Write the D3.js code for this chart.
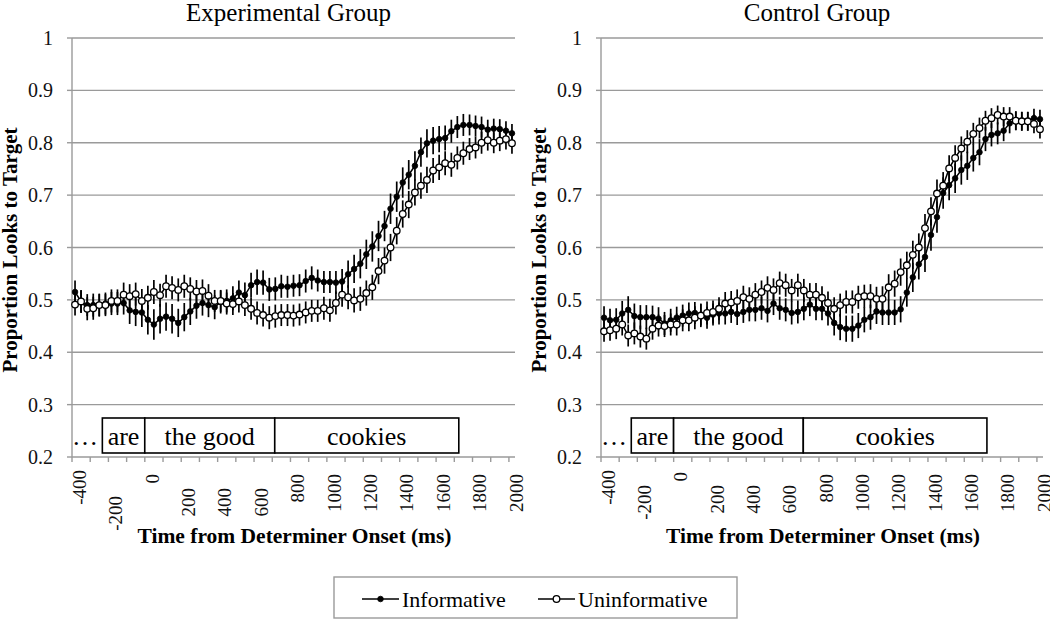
<!DOCTYPE html>
<html><head><meta charset="utf-8">
<script src="https://cdn.jsdelivr.net/npm/d3@7"></script>
<style>body{margin:0;background:#fff} svg text{font-family:'Liberation Serif','Times New Roman',Tinos,'DejaVu Serif',serif}</style>
</head><body><svg id="c" width="1050" height="620" font-family="Liberation Serif, Times New Roman, DejaVu Serif, serif"></svg>
<script>
// ---------- data ----------
const times = [-400,-367,-333,-300,-267,-233,-200,-167,-133,-100,-67,-33,0,
  33,67,100,133,167,200,233,267,300,333,367,400,433,467,500,533,567,600,633,667,700,
  733,767,800,833,867,900,933,967,1000,1033,1067,1100,1133,1167,1200,1233,1267,1300,
  1333,1367,1400,1433,1467,1500,1533,1567,1600,1633,1667,1700,1733,1767,1800,1833,1867,1900,1933,1967,2000];
const xTickLabels = ["-400","-200","0","200","400","600","800","1000","1200","1400","1600","1800","2000"];
const yTickValues = [0.2,0.3,0.4,0.5,0.6,0.7,0.8,0.9,1];
const yTickLabels = ["0.2","0.3","0.4","0.5","0.6","0.7","0.8","0.9","1"];
const panelTitles = ["Experimental Group","Control Group"];
const seriesNames = ["Informative","Uninformative"];
const words = ["are","the good","cookies"];
const wordStart = [-250,-17,697];
const wordEnd = [-17,697,1708];

const expInf = [0.515,0.497,0.490,0.490,0.490,0.493,0.493,0.493,0.494,0.480,0.477,0.476,0.462,0.453,0.464,0.468,0.464,0.456,0.467,0.478,0.489,0.494,0.490,0.486,0.496,0.498,0.503,0.514,0.509,0.528,0.534,0.533,0.520,0.521,0.526,0.525,0.527,0.528,0.536,0.542,0.537,0.534,0.534,0.533,0.535,0.549,0.559,0.569,0.587,0.602,0.622,0.641,0.674,0.697,0.724,0.739,0.756,0.782,0.799,0.804,0.807,0.809,0.822,0.830,0.834,0.834,0.832,0.830,0.825,0.827,0.826,0.823,0.818];
const expInfErr = [0.022,0.021,0.021,0.022,0.022,0.021,0.022,0.022,0.022,0.026,0.027,0.028,0.028,0.029,0.028,0.027,0.028,0.027,0.027,0.026,0.025,0.024,0.023,0.023,0.022,0.022,0.023,0.023,0.024,0.024,0.024,0.023,0.022,0.022,0.022,0.021,0.021,0.021,0.022,0.022,0.021,0.021,0.021,0.022,0.024,0.026,0.027,0.028,0.028,0.029,0.029,0.029,0.029,0.029,0.029,0.028,0.028,0.028,0.027,0.026,0.025,0.024,0.022,0.021,0.021,0.020,0.020,0.020,0.019,0.019,0.019,0.018,0.018];
const expUni = [0.491,0.497,0.483,0.484,0.490,0.490,0.498,0.498,0.510,0.507,0.511,0.498,0.504,0.515,0.509,0.526,0.523,0.519,0.526,0.521,0.516,0.517,0.508,0.498,0.498,0.493,0.492,0.497,0.490,0.483,0.475,0.471,0.466,0.469,0.471,0.471,0.470,0.472,0.476,0.479,0.479,0.484,0.480,0.494,0.510,0.505,0.499,0.502,0.513,0.524,0.555,0.575,0.600,0.632,0.664,0.682,0.705,0.718,0.729,0.747,0.753,0.761,0.758,0.771,0.780,0.788,0.791,0.800,0.805,0.800,0.804,0.807,0.799];
const expUniErr = [0.021,0.022,0.022,0.022,0.021,0.021,0.022,0.022,0.023,0.023,0.022,0.023,0.023,0.023,0.022,0.022,0.022,0.022,0.022,0.022,0.022,0.022,0.022,0.021,0.021,0.021,0.021,0.021,0.021,0.021,0.022,0.022,0.022,0.022,0.021,0.021,0.021,0.021,0.021,0.021,0.021,0.022,0.022,0.022,0.023,0.023,0.023,0.023,0.024,0.024,0.025,0.025,0.026,0.026,0.026,0.026,0.025,0.025,0.025,0.024,0.024,0.023,0.023,0.022,0.022,0.021,0.021,0.021,0.020,0.020,0.020,0.020,0.020];
const ctlInf = [0.466,0.461,0.462,0.474,0.481,0.469,0.467,0.467,0.467,0.464,0.455,0.461,0.466,0.470,0.474,0.475,0.472,0.466,0.472,0.474,0.474,0.477,0.473,0.477,0.481,0.481,0.484,0.479,0.493,0.484,0.481,0.475,0.477,0.483,0.491,0.483,0.483,0.474,0.456,0.448,0.445,0.445,0.451,0.462,0.467,0.478,0.476,0.476,0.476,0.482,0.514,0.543,0.568,0.582,0.624,0.658,0.704,0.719,0.732,0.748,0.756,0.771,0.782,0.807,0.815,0.818,0.823,0.837,0.842,0.841,0.841,0.847,0.845];
const ctlInfErr = [0.022,0.022,0.022,0.024,0.026,0.024,0.023,0.023,0.022,0.022,0.022,0.022,0.021,0.021,0.021,0.021,0.021,0.021,0.021,0.021,0.021,0.021,0.021,0.021,0.022,0.022,0.022,0.022,0.022,0.022,0.022,0.022,0.022,0.022,0.022,0.022,0.022,0.023,0.024,0.025,0.025,0.025,0.024,0.024,0.024,0.024,0.024,0.024,0.024,0.025,0.027,0.028,0.029,0.029,0.030,0.030,0.030,0.029,0.028,0.028,0.027,0.026,0.025,0.023,0.022,0.021,0.020,0.019,0.018,0.018,0.018,0.018,0.018];
const ctlUni = [0.440,0.442,0.445,0.453,0.432,0.436,0.430,0.426,0.445,0.451,0.450,0.453,0.453,0.461,0.461,0.466,0.470,0.475,0.477,0.483,0.493,0.495,0.498,0.505,0.502,0.510,0.515,0.523,0.519,0.532,0.528,0.518,0.528,0.518,0.510,0.510,0.504,0.494,0.483,0.490,0.496,0.496,0.505,0.507,0.507,0.502,0.502,0.524,0.531,0.553,0.566,0.586,0.600,0.637,0.669,0.703,0.718,0.751,0.771,0.789,0.802,0.817,0.828,0.842,0.847,0.853,0.850,0.850,0.842,0.841,0.841,0.836,0.826];
const ctlUniErr = [0.020,0.020,0.020,0.021,0.021,0.021,0.021,0.021,0.021,0.021,0.021,0.021,0.021,0.021,0.021,0.022,0.022,0.022,0.022,0.022,0.022,0.022,0.022,0.022,0.022,0.022,0.022,0.022,0.022,0.022,0.022,0.022,0.022,0.022,0.022,0.022,0.022,0.022,0.022,0.022,0.022,0.022,0.022,0.022,0.023,0.023,0.024,0.025,0.025,0.026,0.026,0.027,0.027,0.027,0.027,0.027,0.026,0.025,0.024,0.023,0.022,0.021,0.020,0.019,0.019,0.018,0.018,0.018,0.018,0.018,0.018,0.018,0.018];

// ---------- drawing ----------
const FONT = "Liberation Serif, Times New Roman, DejaVu Serif, serif";
const svg = d3.select("#c");
const GRID = "#9a9a9a";
const y = d3.scaleLinear().domain([0.2, 1]).range([457, 38]);
const halfStep = 16.7;

const panels = [
  {title: panelTitles[0], inf: expInf, infErr: expInfErr, uni: expUni, uniErr: expUniErr, x0: 72, x1: 515, labTop: {"-400":470,"-200":496,"0":474,"200":488,"400":488,"600":488}},
  {title: panelTitles[1], inf: ctlInf, infErr: ctlInfErr, uni: ctlUni, uniErr: ctlUniErr, x0: 601, x1: 1043, labTop: {"-400":470,"-200":485,"0":472,"200":485,"400":485,"600":485}}
];

panels.forEach(p => {
  const g = svg.append("g").attr("font-family", FONT);
  const x = d3.scaleLinear().domain([times[0]-halfStep, times[times.length-1]+halfStep]).range([p.x0, p.x1]);

  g.selectAll(".grid").data(yTickValues.slice(1)).join("line")
    .attr("x1", p.x0).attr("x2", p.x1)
    .attr("y1", d => y(d)).attr("y2", d => y(d))
    .attr("stroke", GRID).attr("stroke-width", 1.4);

  g.append("line").attr("x1", p.x0).attr("x2", p.x0).attr("y1", y(0.2)).attr("y2", y(1))
    .attr("stroke", GRID).attr("stroke-width", 1.4);
  g.selectAll(".yt").data(yTickValues).join("line")
    .attr("x1", p.x0 - 5).attr("x2", p.x0).attr("y1", d => y(d)).attr("y2", d => y(d))
    .attr("stroke", GRID).attr("stroke-width", 1.4);
  g.selectAll(".ytl").data(yTickValues).join("text")
    .attr("font-family", FONT)
    .attr("x", p.x0 - 19).attr("y", d => y(d) + 7)
    .attr("text-anchor", "end").attr("font-size", 20).attr("fill", "#111")
    .text((d, i) => yTickLabels[i]);

  g.append("line").attr("x1", p.x0).attr("x2", p.x1).attr("y1", y(0.2)).attr("y2", y(0.2))
    .attr("stroke", GRID).attr("stroke-width", 1.4);
  const tickTimes = times.filter((t, i) => i % 3 === 0).map(t => t - halfStep);
  g.selectAll(".xt").data(tickTimes).join("line")
    .attr("x1", d => x(d)).attr("x2", d => x(d)).attr("y1", y(0.2)).attr("y2", y(0.2) + 5)
    .attr("stroke", GRID).attr("stroke-width", 1.4);
  g.selectAll(".xtl").data(xTickLabels).join("text")
    .attr("font-family", FONT)
    .attr("transform", d => `translate(${x(+d) + 4},${p.labTop[d] || 474}) rotate(-90)`)
    .attr("text-anchor", "end").attr("dy", "0.35em")
    .attr("font-size", 19).attr("fill", "#111").text(d => d);

  g.append("text").attr("font-family", FONT).attr("x", x(times[0]) + 10).attr("y", 445).attr("text-anchor", "middle")
    .attr("font-size", 26).text("…");
  words.forEach((w, i) => {
    g.append("rect").attr("x", x(wordStart[i])).attr("y", 418)
      .attr("width", x(wordEnd[i]) - x(wordStart[i])).attr("height", 35)
      .attr("fill", "#fff").attr("stroke", "#000").attr("stroke-width", 1.6);
    g.append("text").attr("font-family", FONT).attr("x", (x(wordStart[i]) + x(wordEnd[i])) / 2).attr("y", 445)
      .attr("text-anchor", "middle").attr("font-size", 26).text(w);
  });

  const line = d3.line().x((d, i) => x(times[i])).y(d => y(d));
  [[p.inf, p.infErr, true], [p.uni, p.uniErr, false]].forEach(([vals, errs, filled]) => {
    const s = g.append("g");
    s.selectAll("line").data(vals).join("line")
      .attr("x1", (d, i) => x(times[i])).attr("x2", (d, i) => x(times[i]))
      .attr("y1", (d, i) => y(d - errs[i])).attr("y2", (d, i) => y(d + errs[i]))
      .attr("stroke", "#000").attr("stroke-width", 1.7);
    s.append("path").datum(vals).attr("d", line).attr("fill", "none")
      .attr("stroke", "#000").attr("stroke-width", 1.5);
    s.selectAll("circle").data(vals).join("circle")
      .attr("cx", (d, i) => x(times[i])).attr("cy", d => y(d))
      .attr("r", filled ? 2.8 : 3.3)
      .attr("fill", filled ? "#000" : "#fff").attr("stroke", "#000").attr("stroke-width", filled ? 0.8 : 1.3);
  });

  const cx = (p.x0 + p.x1) / 2;
  g.append("text").attr("font-family", FONT).attr("x", cx - 5).attr("y", 21).attr("text-anchor", "middle")
    .attr("font-size", 25).text(p.title);
  g.append("text").attr("font-family", FONT).attr("x", cx + 1).attr("y", 543).attr("text-anchor", "middle")
    .attr("font-size", 21.5).attr("font-weight", "bold").text("Time from Determiner Onset (ms)");
  g.append("text").attr("font-family", FONT).attr("transform", `translate(${p.x0 - 55},250) rotate(-90)`)
    .attr("text-anchor", "middle").attr("font-size", 21).attr("font-weight", "bold")
    .text("Proportion Looks to Target");
});

const lg = svg.append("g").attr("font-family", FONT);
lg.append("rect").attr("x", 334).attr("y", 577).attr("width", 403).attr("height", 41)
  .attr("fill", "none").attr("stroke", GRID).attr("stroke-width", 1.4);
const legItems = [{x: 362, filled: true}, {x: 538, filled: false}];
legItems.forEach((it, i) => {
  lg.append("line").attr("x1", it.x).attr("x2", it.x + 37).attr("y1", 599).attr("y2", 599)
    .attr("stroke", "#000").attr("stroke-width", 1.5);
  lg.append("circle").attr("cx", it.x + 18.5).attr("cy", 599).attr("r", it.filled ? 2.8 : 3.3)
    .attr("fill", it.filled ? "#000" : "#fff").attr("stroke", "#000").attr("stroke-width", it.filled ? 0.8 : 1.3);
  lg.append("text").attr("font-family", FONT).attr("x", it.x + 40).attr("y", 607).attr("font-size", 22).text(seriesNames[i]);
});
</script></body></html>
